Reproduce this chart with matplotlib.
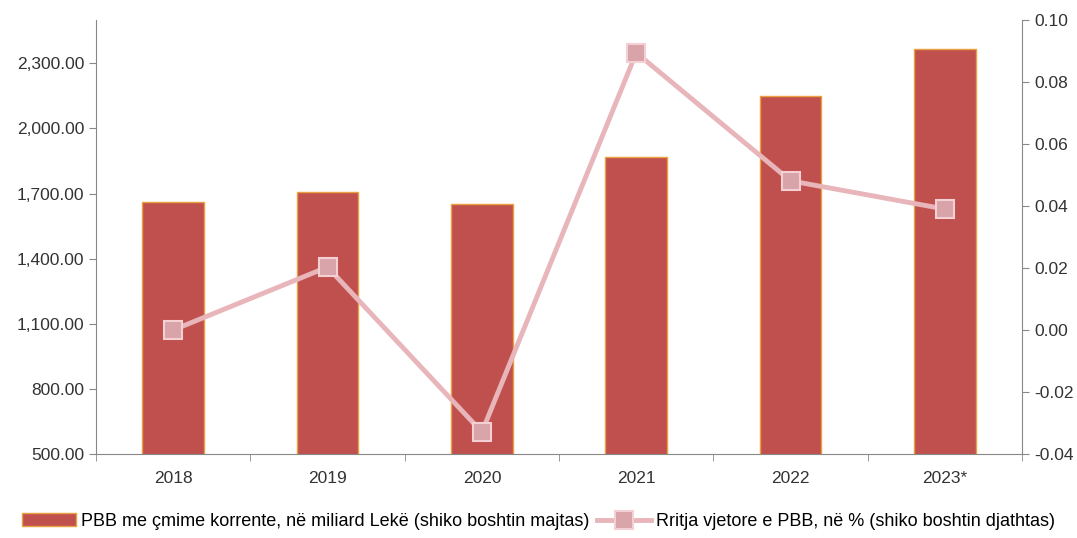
import matplotlib
matplotlib.use("Agg")
import matplotlib.pyplot as plt
import matplotlib.ticker as mticker
import numpy as np

plt.rcParams['font.family'] = ['Liberation Sans', 'DejaVu Sans']

years = ['2018', '2019', '2020', '2021', '2022', '2023*']
gdp = [1661, 1707, 1652, 1869, 2150, 2366]
growth = [0.000, 0.0203, -0.0329, 0.0894, 0.0481, 0.039]

bar_label = 'PBB me çmime korrente, në miliard Lekë (shiko boshtin majtas)'
line_label = 'Rritja vjetore e PBB, në % (shiko boshtin djathtas)'

fig = plt.figure(figsize=(10.77, 5.38), dpi=100)
ax = fig.add_axes([0.0891, 0.156, 0.860, 0.807])
ax2 = ax.twinx()

x = np.arange(len(years))
bars = ax.bar(x, gdp, width=0.4, color='#C0504D', edgecolor='#E8A040',
              linewidth=1.0, label=bar_label, zorder=2)
ax.set_ylim(500, 2500)
ax.set_xlim(-0.5, len(years) - 0.5)
ax.set_yticks(np.arange(500, 2301, 300))
ax.yaxis.set_major_formatter(mticker.FuncFormatter(lambda v, p: f'{v:,.2f}'))
ax.set_xticks(x)
ax.set_xticklabels(years)
ax.set_xticks(np.arange(-0.5, len(years)), minor=True)
ax.tick_params(axis='x', which='major', length=0, pad=12, labelsize=12.5, colors='#333333')
ax.tick_params(axis='x', which='minor', length=5, color='#888888')
ax.tick_params(axis='y', length=5, color='#888888', labelsize=12.5, labelcolor='#333333')

line, = ax2.plot(x, growth, color='#E8B6BA', linewidth=3.5, marker='s',
                 markersize=13, markerfacecolor='#D9A3AA', markeredgecolor='#F4D0D4',
                 markeredgewidth=1.5, label=line_label, zorder=3)
ax2.set_ylim(-0.04, 0.10)
ax2.set_yticks(np.arange(-0.04, 0.1001, 0.02))
ax2.yaxis.set_major_formatter(mticker.FormatStrFormatter('%.2f'))
ax2.tick_params(axis='y', length=5, color='#888888', labelsize=12.5, labelcolor='#333333')

for a in (ax, ax2):
    a.spines['top'].set_visible(False)
    for s in ('left', 'right', 'bottom'):
        a.spines[s].set_color('#888888')
ax.spines['right'].set_visible(False)
ax2.spines['left'].set_visible(False)
ax2.spines['bottom'].set_visible(False)

fig.legend([bars, line], [bar_label, line_label], loc='lower center',
           bbox_to_anchor=(0.5, -0.015), ncol=2, frameon=False, fontsize=13,
           handlelength=3.0, columnspacing=0.4, handletextpad=0.3)

fig.savefig('out.png', dpi=100)
